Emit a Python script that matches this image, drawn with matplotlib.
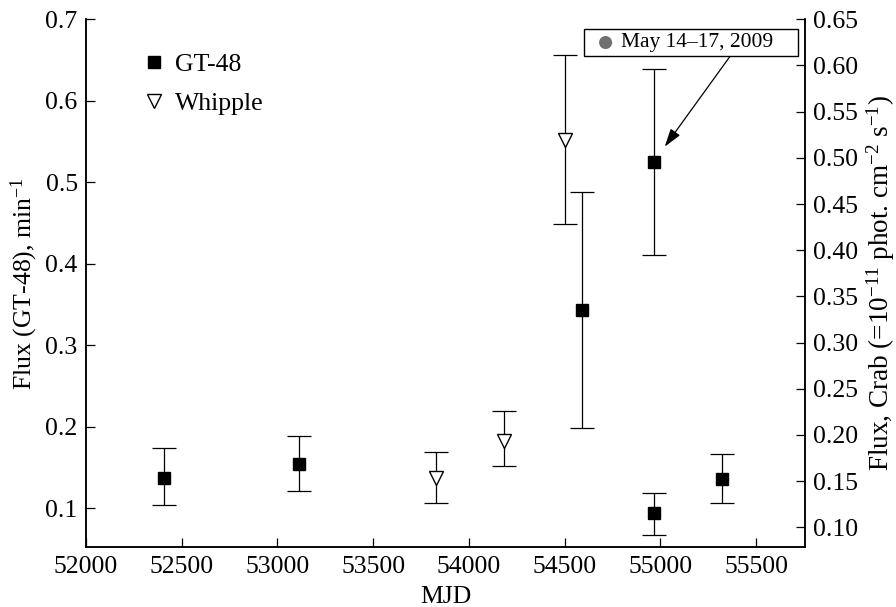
import matplotlib
matplotlib.use("Agg")
import matplotlib.pyplot as plt
from matplotlib.lines import Line2D
from matplotlib.offsetbox import AnnotationBbox, HPacker, TextArea, DrawingArea
from matplotlib.patches import Circle
import numpy as np

plt.rcParams['font.family'] = ['Liberation Serif', 'DejaVu Serif']
plt.rcParams['mathtext.fontset'] = 'custom'
plt.rcParams['mathtext.rm'] = 'Liberation Serif'
plt.rcParams['mathtext.it'] = 'Liberation Serif:italic'
plt.rcParams['mathtext.default'] = 'regular'

# ---- data ----
gt_mjd = [52408, 53113, 54592, 54965, 54965, 55324]
gt_flux = [0.137, 0.154, 0.343, 0.525, 0.0935, 0.136]
gt_lo = [0.104, 0.121, 0.198, 0.411, 0.067, 0.106]
gt_hi = [0.174, 0.189, 0.488, 0.639, 0.119, 0.166]

wh_mjd = [53827, 54182, 54504]
wh_flux = [0.153, 0.193, 0.519]
wh_lo = [0.126, 0.166, 0.428]
wh_hi = [0.182, 0.226, 0.611]

x_ticks = [52000, 52500, 53000, 53500, 54000, 54500, 55000, 55500]
left_ticks = [0.1, 0.2, 0.3, 0.4, 0.5, 0.6, 0.7]
right_ticks = [0.10, 0.15, 0.20, 0.25, 0.30, 0.35, 0.40, 0.45, 0.50, 0.55, 0.60, 0.65]

series_labels = ["GT-48", "Whipple"]
annot_label = "May 14\u201317, 2009"
annot_index = 3

FS = 18.5

fig = plt.figure(figsize=(8.96, 6.07), dpi=100)
ax = fig.add_axes([86/896, (607-547.3)/607, (805-86)/896, (547.3-19.3)/607])
ax2 = ax.twinx()

gt_flux_a = np.array(gt_flux)
gt_err = [gt_flux_a - np.array(gt_lo), np.array(gt_hi) - gt_flux_a]
wh_flux_a = np.array(wh_flux)
wh_err = [wh_flux_a - np.array(wh_lo), np.array(wh_hi) - wh_flux_a]

ax.errorbar(gt_mjd, gt_flux, yerr=gt_err, fmt='none', ecolor='black',
            elinewidth=0.9, capsize=8.3, capthick=0.9, zorder=2)
ax.plot(gt_mjd, gt_flux, linestyle='none', marker='s', markersize=8.6,
        color='black', zorder=3)
ax2.errorbar(wh_mjd, wh_flux, yerr=wh_err, fmt='none', ecolor='black',
             elinewidth=0.9, capsize=8.3, capthick=0.9, zorder=2)
ax2.plot(wh_mjd, wh_flux, linestyle='none', marker='v', markersize=9.5,
         markerfacecolor='white', markeredgecolor='black', markeredgewidth=1.0,
         zorder=3)

ax.set_xlim(52000, 55755)
ax.set_ylim(0.052, 0.7)
ax2.set_ylim(0.0784, 0.65)

ax.set_xticks(x_ticks)
ax.set_xticklabels([str(t) for t in x_ticks])
ax.set_yticks(left_ticks)
ax.set_yticklabels([f"{t:.1f}" for t in left_ticks])
ax2.set_yticks(right_ticks)
ax2.set_yticklabels([f"{t:.2f}" for t in right_ticks])

for a in (ax, ax2):
    a.spines['top'].set_visible(False)
    for s in a.spines.values():
        s.set_linewidth(1.1)
ax.tick_params(axis='both', direction='in', length=6.5, width=0.9,
               labelsize=FS, pad=6)
ax.tick_params(axis='x', top=False)
ax.tick_params(axis='y', right=False)
ax2.tick_params(axis='y', direction='in', length=6.5, width=0.9,
                labelsize=FS, pad=6)

ax.set_xlabel("MJD", fontsize=FS, labelpad=6)
ax.set_ylabel("Flux (GT-48), min$^{-1}$", fontsize=FS, labelpad=4)
ax2.set_ylabel("Flux, Crab (=10$^{-11}$ phot. cm$^{-2}$ s$^{-1}$)",
               fontsize=19.5, labelpad=4)

# legend
handles = [Line2D([], [], linestyle='none', marker='s', markersize=8.6, color='black'),
           Line2D([], [], linestyle='none', marker='v', markersize=9.5,
                  markerfacecolor='white', markeredgecolor='black', markeredgewidth=1.0)]
ax.legend(handles, series_labels, loc='upper left', bbox_to_anchor=(0.068, 0.955),
          frameon=False, fontsize=FS, handlelength=0.7, handletextpad=0.45,
          labelspacing=0.6, borderaxespad=0)

# annotation box
da_left = DrawingArea(26.6, 19.4, 0, 0)
da_left.add_artist(Circle((15.8, 9.7), 4.7, facecolor='#707070', edgecolor='none'))
ta = TextArea(annot_label, textprops=dict(fontsize=15.5, color='black'))
da_right = DrawingArea(18.0, 19.4, 0, 0)
pack = HPacker(children=[da_left, ta, da_right], align='center', pad=0, sep=0)
ab = AnnotationBbox(pack, (gt_mjd[annot_index], gt_flux[annot_index]),
                    xybox=(0.841, 0.956), xycoords='data', boxcoords='axes fraction',
                    box_alignment=(0.5, 0.5), pad=0.0,
                    bboxprops=dict(edgecolor='black', facecolor='white', linewidth=1.0),
                    arrowprops=dict(arrowstyle='-|>,head_length=0.8,head_width=0.25',
                                    color='black', lw=0.9, shrinkA=0, shrinkB=13.5,
                                    relpos=(0.685, 0.0)))
ax.add_artist(ab)

fig.savefig("out.png", dpi=100)
